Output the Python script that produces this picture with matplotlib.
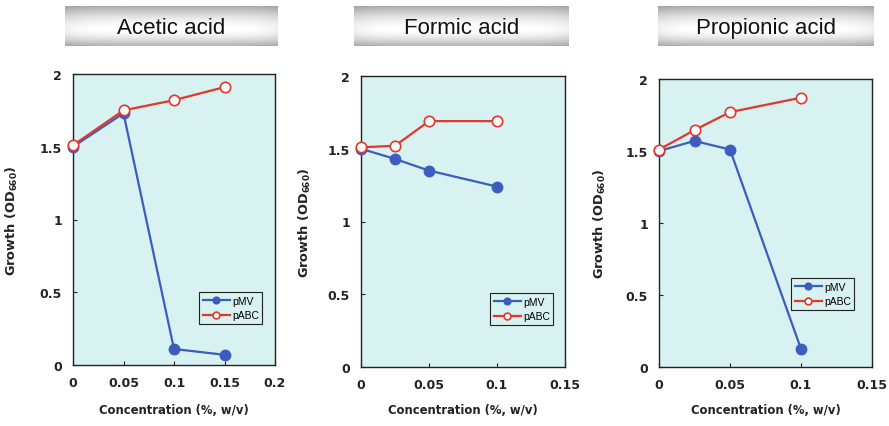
import numpy as np
import matplotlib
matplotlib.use("Agg")
import matplotlib.pyplot as plt

plt.rcParams['font.family'] = ['DejaVu Sans']
plt.rcParams['mathtext.fontset'] = 'custom'
plt.rcParams['mathtext.rm'] = 'DejaVu Sans:bold'
plt.rcParams['mathtext.default'] = 'regular'

# Growth data per acid
acetic_conc = [0, 0.05, 0.1, 0.15]
acetic_pmv = [1.50, 1.73, 0.11, 0.07]
acetic_pabc = [1.51, 1.75, 1.82, 1.91]

formic_conc = [0, 0.025, 0.05, 0.1]
formic_pmv = [1.50, 1.43, 1.35, 1.24]
formic_pabc = [1.51, 1.52, 1.69, 1.69]

propionic_conc = [0, 0.025, 0.05, 0.1]
propionic_pmv = [1.50, 1.57, 1.51, 0.125]
propionic_pabc = [1.51, 1.645, 1.77, 1.87]

titles = ["Acetic acid", "Formic acid", "Propionic acid"]
x_ticks = [[0, 0.05, 0.1, 0.15, 0.2], [0, 0.05, 0.1, 0.15], [0, 0.05, 0.1, 0.15]]
x_tick_labels = [["0", "0.05", "0.1", "0.15", "0.2"], ["0", "0.05", "0.1", "0.15"], ["0", "0.05", "0.1", "0.15"]]
y_ticks = [0, 0.5, 1, 1.5, 2]
y_tick_labels = ["0", "0.5", "1", "1.5", "2"]

W, H = 889, 427
fig = plt.figure(figsize=(W / 100, H / 100), dpi=100)

def px_axes(x0, y0, x1, y1, **kw):
    return fig.add_axes([x0 / W, 1 - y1 / H, (x1 - x0) / W, (y1 - y0) / H], **kw)

# panel geometry in pixels: plot box, title banner, legend anchor, ylabel x
panels = [
    dict(box=(73, 75, 275, 366), banner=(65, 7, 278, 47), ylab_x=12,
         data=(acetic_conc, acetic_pmv, acetic_pabc), leg=(199, 293, 263, 328)),
    dict(box=(361, 77, 565, 368), banner=(354, 7, 569, 47), ylab_x=305,
         data=(formic_conc, formic_pmv, formic_pabc), leg=(490, 294, 554, 329)),
    dict(box=(659, 80, 872, 368), banner=(658, 7, 874, 47), ylab_x=600,
         data=(propionic_conc, propionic_pmv, propionic_pabc), leg=(791, 279, 862, 318)),
]

blue = "#3c5cbf"
red = "#e2372b"
bg = "#d7f2f0"
ink = "#222222"

# vertical grey gradient for the title banners
t = np.linspace(0, 1, 60)
prof = 1 - 0.32 * np.clip(1 - t / 0.55, 0, 1) ** 1.6 - 0.30 * np.clip((t - 0.6) / 0.4, 0, 1) ** 1.6
s = np.linspace(0, 1, 200)
hprof = 1 - 0.06 * (np.abs(s - 0.5) * 2) ** 6
grad = np.clip(prof[:, None] * hprof[None, :], 0, 1)

for i, p in enumerate(panels):
    # title banner
    bx0, by0, bx1, by1 = p["banner"]
    bax = px_axes(bx0, by0, bx1, by1)
    bax.imshow(grad, cmap="gray", vmin=0, vmax=1, aspect="auto", extent=[0, 1, 0, 1])
    bax.set_axis_off()
    bax.text(0.5, 0.46, titles[i], ha="center", va="center", fontsize=16,
             family=["Liberation Sans", "DejaVu Sans"], color="#111111")

    x0, y0, x1, y1 = p["box"]
    ax = px_axes(x0, y0, x1, y1)
    ax.set_facecolor(bg)
    conc, pmv, pabc = p["data"]
    ax.plot(conc, pmv, "-o", color=blue, lw=1.6, ms=7.5, mfc=blue, mec=blue,
            label="pMV", clip_on=False, zorder=3)
    ax.plot(conc, pabc, "-o", color=red, lw=1.6, ms=7.5, mfc="white", mec=red,
            mew=1.2, label="pABC", clip_on=False, zorder=4)
    ax.set_xlim(x_ticks[i][0], x_ticks[i][-1])
    ax.set_ylim(0, 2)
    ax.set_xticks(x_ticks[i])
    ax.set_xticklabels(x_tick_labels[i])
    ax.set_yticks(y_ticks)
    ax.set_yticklabels(y_tick_labels)
    ax.tick_params(direction="in", length=3, width=0.8, pad=8, labelsize=9,
                   top=False, right=False, colors=ink)
    for lab in ax.get_xticklabels() + ax.get_yticklabels():
        lab.set_fontweight("bold")
    for sp in ax.spines.values():
        sp.set_color(ink)
        sp.set_linewidth(1.0)

    fig.text((x0 + x1) / 2 / W, 1 - 411 / H, "Concentration (%, w/v)", ha="center",
             va="center", fontsize=8.4, fontweight="bold", color=ink)
    fig.text(p["ylab_x"] / W, 1 - ((y0 + y1) / 2) / H, "Growth (OD$_{660}$)",
             ha="center", va="center", rotation=90, fontsize=9.3, fontweight="bold",
             color=ink)

    lx0, ly0, lx1, ly1 = p["leg"]
    leg = ax.legend(loc="upper left",
                    bbox_to_anchor=((lx0 - x0) / (x1 - x0), 1 - (ly0 - y0) / (y1 - y0)),
                    borderaxespad=0, frameon=True, fancybox=False,
                    handlelength=2.6, handletextpad=0.2, borderpad=0.35,
                    labelspacing=0.45, markerscale=0.65,
                    prop={"family": ["Liberation Sans", "DejaVu Sans"], "size": 7.5})
    leg.get_frame().set_edgecolor(ink)
    leg.get_frame().set_linewidth(0.8)
    leg.get_frame().set_facecolor(bg)
    leg.get_frame().set_alpha(1)

fig.savefig("out.png", dpi=100)
